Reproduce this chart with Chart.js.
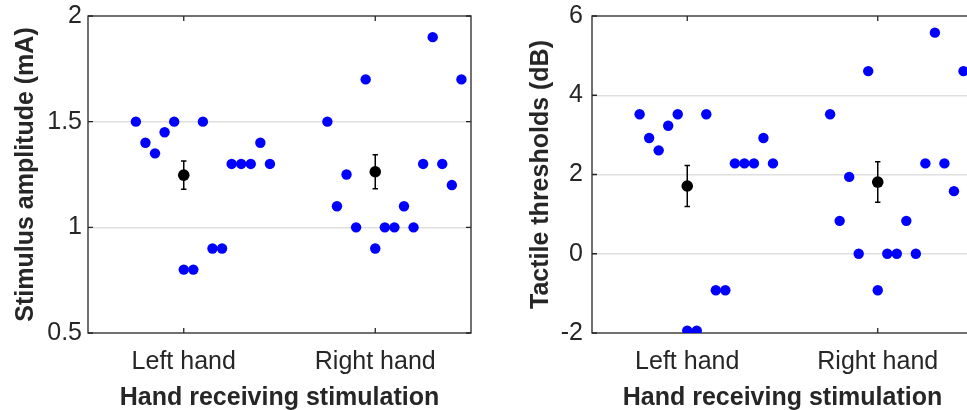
<!DOCTYPE html>
<html>
<head>
<meta charset="utf-8">
<script src="https://cdn.jsdelivr.net/npm/chart.js@4.4.0/dist/chart.umd.min.js"></script>
<style>
  html, body { margin: 0; padding: 0; background: #fff; overflow: hidden; width: 967px; height: 410px; }
  #ampChart { position: absolute; left: 0; top: 0; }
  #dbChart { position: absolute; left: 500px; top: 0; }
</style>
</head>
<body>
<canvas id="ampChart" width="480" height="410"></canvas>
<canvas id="dbChart" width="480" height="410"></canvas>
<script>
// groups on the x axis
const groupLabels = ['Left hand', 'Right hand'];
const groupTicks = [1, 2];

// jittered x positions of the subjects
const leftX  = [0.75, 0.80, 0.85, 0.90, 0.95, 1.00, 1.05, 1.10, 1.15, 1.20, 1.25, 1.30, 1.35, 1.40, 1.45];
const rightX = [1.75, 1.80, 1.85, 1.90, 1.95, 2.00, 2.05, 2.10, 2.15, 2.20, 2.25, 2.30, 2.35, 2.40, 2.45];

// stimulus amplitude (mA)
const ampLeft  = [1.5, 1.4, 1.35, 1.45, 1.5, 0.8, 0.8, 1.5, 0.9, 0.9, 1.3, 1.3, 1.3, 1.4, 1.3];
const ampRight = [1.5, 1.1, 1.25, 1.0, 1.7, 0.9, 1.0, 1.0, 1.1, 1.0, 1.3, 1.9, 1.3, 1.2, 1.7];
const ampMean  = [1.247, 1.263];
const ampErr   = [0.067, 0.080];
const ampTicks = [0.5, 1, 1.5, 2];

// tactile thresholds (dB)
const dbLeft  = [3.52, 2.92, 2.61, 3.23, 3.52, -1.94, -1.94, 3.52, -0.92, -0.92, 2.28, 2.28, 2.28, 2.92, 2.28];
const dbRight = [3.52, 0.83, 1.94, 0, 4.61, -0.92, 0, 0, 0.83, 0, 2.28, 5.58, 2.28, 1.58, 4.61];
const dbMean  = [1.71, 1.81];
const dbErr   = [0.52, 0.51];
const dbTicks = [-2, 0, 2, 4, 6];

const textColor = '#262626';
const fontFamily = "'Liberation Sans', Arial, Helvetica, sans-serif";

function toPoints(xs, ys) {
    return xs.map((x, i) => ({ x: x, y: ys[i] }));
}

// box with inward ticks (matlab look) and error bars
const boxPlugin = {
    id: 'matlabBox',
    beforeDatasetsDraw(chart, args, opts) {
        const { ctx, chartArea: a, scales: { x, y } } = chart;
        const len = 5;
        ctx.save();
        ctx.strokeStyle = textColor;
        ctx.lineWidth = 1.3;
        ctx.strokeRect(a.left, a.top, a.right - a.left, a.bottom - a.top);
        ctx.beginPath();
        x.ticks.forEach(t => {
            const px = x.getPixelForValue(t.value);
            ctx.moveTo(px, a.bottom); ctx.lineTo(px, a.bottom - len);
            ctx.moveTo(px, a.top); ctx.lineTo(px, a.top + len);
        });
        y.ticks.forEach(t => {
            const py = y.getPixelForValue(t.value);
            ctx.moveTo(a.left, py); ctx.lineTo(a.left + len, py);
            ctx.moveTo(a.right, py); ctx.lineTo(a.right - len, py);
        });
        ctx.stroke();

        ctx.strokeStyle = '#000';
        ctx.lineWidth = 1.5;
        opts.means.forEach((m, i) => {
            const px = x.getPixelForValue(groupTicks[i]);
            const top = y.getPixelForValue(m + opts.errs[i]);
            const bot = y.getPixelForValue(m - opts.errs[i]);
            ctx.beginPath();
            ctx.moveTo(px, top); ctx.lineTo(px, bot);
            ctx.moveTo(px - 2.7, top); ctx.lineTo(px + 2.7, top);
            ctx.moveTo(px - 2.7, bot); ctx.lineTo(px + 2.7, bot);
            ctx.stroke();
        });
        ctx.restore();
    }
};

function makeChart(id, p) {
    const yMin = p.yTicks[0];
    const yMax = p.yTicks[p.yTicks.length - 1];
    return new Chart(document.getElementById(id), {
        type: 'scatter',
        data: {
            datasets: [{
                data: toPoints(leftX, p.left).concat(toPoints(rightX, p.right)),
                backgroundColor: '#0000ff',
                borderWidth: 0,
                pointRadius: 5.2,
                pointHoverRadius: 5.2
            }, {
                data: toPoints(groupTicks, p.means),
                backgroundColor: '#000000',
                borderWidth: 0,
                pointRadius: 5.8,
                pointHoverRadius: 5.8
            }]
        },
        options: {
            responsive: false,
            animation: false,
            layout: { padding: { top: 16, right: p.padRight, left: 0, bottom: 0 } },
            plugins: {
                legend: { display: false },
                tooltip: { enabled: false },
                matlabBox: { means: p.means, errs: p.errs }
            },
            scales: {
                x: {
                    type: 'linear',
                    min: 0.5,
                    max: 2.5,
                    afterBuildTicks: s => { s.ticks = groupTicks.map(v => ({ value: v })); },
                    afterFit: s => { s.height = 77; s.paddingLeft = 0; s.paddingRight = 0; },
                    ticks: {
                        color: textColor,
                        font: { family: fontFamily, size: 25 },
                        padding: 14,
                        autoSkip: false,
                        maxRotation: 0,
                        callback: (v, i) => groupLabels[i]
                    },
                    grid: { display: false, drawTicks: false },
                    border: { display: false },
                    title: {
                        display: true,
                        text: 'Hand receiving stimulation',
                        color: textColor,
                        font: { family: fontFamily, size: 25, weight: 'bold' },
                        padding: { top: 0, bottom: -3 }
                    }
                },
                y: {
                    min: yMin,
                    max: yMax,
                    afterBuildTicks: s => { s.ticks = p.yTicks.map(v => ({ value: v })); },
                    afterFit: s => { s.width = p.yWidth; s.paddingTop = 0; s.paddingBottom = 0; },
                    ticks: {
                        color: textColor,
                        font: { family: fontFamily, size: 25 },
                        padding: p.tickPad,
                        callback: v => String(v)
                    },
                    grid: {
                        drawTicks: false,
                        lineWidth: 1.5,
                        color: c => (c.tick && (c.tick.value === yMin || c.tick.value === yMax)) ? 'rgba(0,0,0,0)' : '#dfdfdf'
                    },
                    border: { display: false },
                    title: {
                        display: true,
                        text: p.yTitle,
                        color: textColor,
                        font: { family: fontFamily, size: 25, weight: 'bold' },
                        padding: { top: p.titlePad, bottom: 0 }
                    }
                }
            }
        },
        plugins: [boxPlugin]
    });
}

makeChart('ampChart', {
    left: ampLeft, right: ampRight, means: ampMean, errs: ampErr,
    yTicks: ampTicks, yTitle: 'Stimulus amplitude (mA)',
    yWidth: 88, tickPad: 6, titlePad: 11, padRight: 9
});

makeChart('dbChart', {
    left: dbLeft, right: dbRight, means: dbMean, errs: dbErr,
    yTicks: dbTicks, yTitle: 'Tactile thresholds (dB)',
    yWidth: 92, tickPad: 9, titlePad: 26, padRight: 7
});
</script>
</body>
</html>
